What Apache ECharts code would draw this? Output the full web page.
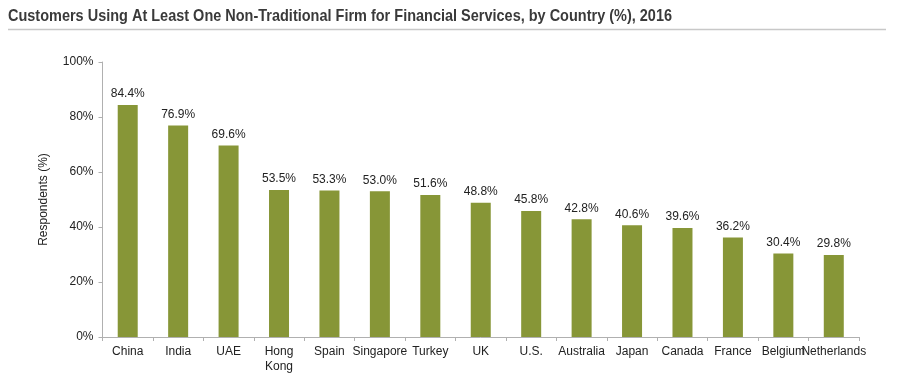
<!DOCTYPE html>
<html><head><meta charset="utf-8">
<script src="https://cdn.jsdelivr.net/npm/echarts@6/dist/echarts.min.js"></script>
<style>html,body{margin:0;padding:0;background:#fff}#c{width:900px;height:380px}</style>
</head><body><div id="c"></div>
<script>
const titleText = 'Customers Using At Least One Non-Traditional Firm for Financial Services, by Country (%), 2016';
const categories = ["China","India","UAE","Hong\nKong","Spain","Singapore","Turkey","UK","U.S.","Australia","Japan","Canada","France","Belgium","Netherlands"];
const values = [84.4,76.9,69.6,53.5,53.3,53.0,51.6,48.8,45.8,42.8,40.6,39.6,36.2,30.4,29.8];
const yTicks = [0,20,40,60,80,100];

const titleFont = 'bold 17px "Liberation Sans", Arial, sans-serif';
const cv = document.createElement('canvas').getContext('2d');
cv.font = titleFont;
const tw = cv.measureText(titleText).width;
const sx = 664 / tw;

const chart = echarts.init(document.getElementById('c'));
chart.setOption({
  animation:false,
  graphic:[
    {type:'text',x:8,y:16,scaleX:sx,originX:0,originY:0,
     style:{text:titleText,font:titleFont,fill:'#3a3a3a',textVerticalAlign:'middle',verticalAlign:'middle'}},
    {type:'line',shape:{x1:8,y1:29.5,x2:886,y2:29.5},style:{stroke:'#c8c8c8',lineWidth:1.5}}
  ],
  grid:{left:102.5,right:41,top:62,bottom:43},
  xAxis:{type:'category',data:categories,
    axisLine:{lineStyle:{color:'#b0b0b0'}},
    axisTick:{show:true,length:4,lineStyle:{color:'#b0b0b0'}},
    axisLabel:{interval:0,color:'#222',fontSize:12,fontFamily:'Liberation Sans',margin:7,lineHeight:15}},
  yAxis:{type:'value',min:0,max:100,interval:20,
    name:'Respondents (%)',nameLocation:'middle',nameGap:53,nameRotate:90,
    nameTextStyle:{color:'#222',fontSize:12,fontFamily:'Liberation Sans'},
    axisLine:{show:true,lineStyle:{color:'#b0b0b0'}},
    axisTick:{show:true,length:4,lineStyle:{color:'#b0b0b0'}},
    splitLine:{show:false},
    axisLabel:{color:'#222',fontSize:12,fontFamily:'Liberation Sans',margin:9,
      formatter:v=>yTicks.includes(v)?v+'%':''}},
  series:[{type:'bar',data:values,barWidth:20,itemStyle:{color:'#879637'},
    label:{show:true,position:'top',distance:5,color:'#222',fontSize:12,fontFamily:'Liberation Sans',formatter:p=>p.value.toFixed(1)+'%'}}]
});
</script></body></html>
